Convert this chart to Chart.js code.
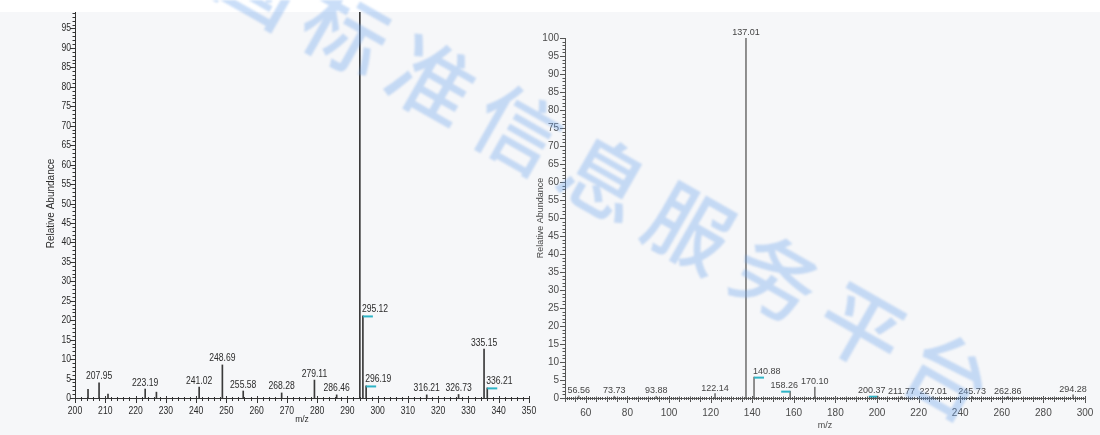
<!DOCTYPE html>
<html>
<head>
<meta charset="utf-8">
<script src="https://cdn.jsdelivr.net/npm/chart.js@4.4.1/dist/chart.umd.min.js"></script>
<style>
  html, body { margin: 0; padding: 0; width: 1100px; height: 435px; overflow: hidden; background: #f6f7f9; }
  #topband { position: absolute; left: 0; top: 0; width: 1100px; height: 12px; background: #ffffff; }
  #leftWrap { position: absolute; left: 0; top: 0; width: 540px; height: 435px; clip-path: inset(12px 0 0 0); }
  #rightWrap { position: absolute; left: 520px; top: 0; width: 580px; height: 435px; }
  canvas { display: block; }
  #stamp { position: absolute; left: 0; top: 0; width: 1100px; height: 435px; pointer-events: none; overflow: hidden; filter: blur(1.3px); }
  #stamp span { position: absolute; width: 90px; height: 90px; line-height: 90px; text-align: center;
    font-family: 'Noto Sans CJK SC'; font-size: 84px; font-weight: 500; color: rgba(110, 165, 235, 0.37);
    transform: rotate(29.7deg); }
</style>
</head>
<body>
<div id="topband"></div>
<div id="leftWrap"><canvas id="left" width="540" height="435"></canvas></div>
<div id="rightWrap"><canvas id="right" width="580" height="435"></canvas></div>
<div id="stamp"></div>
<script>
// ---- spectrum 1 (m/z 200-350) ----
const leftMz        = [204.30, 207.95, 210.90, 223.19, 226.90, 241.02, 248.69, 255.58, 268.28, 279.11, 286.46, 294.11, 295.12, 296.19, 316.21, 326.73, 335.15, 336.21];
const leftAbundance = [2.2,    3.9,    1.0,    2.3,    1.5,    2.8,    8.5,    1.8,    1.3,    4.6,    0.8,    100,    21.1,   3.1,    0.8,    0.9,    12.6,   2.6];
const leftLabelled  = [false,  true,   false,  true,   false,  true,   true,   true,   true,   true,   true,   false,  true,   true,   true,   true,   true,   true];
const leftFlagged   = [295.12, 296.19, 336.21];

// ---- spectrum 2 (m/z 50-300) ----
const rightMz        = [56.56, 73.73, 93.88, 122.14, 137.01, 140.88, 158.26, 170.10, 200.37, 211.77, 227.01, 245.73, 262.86, 294.28];
const rightAbundance = [0.6,   0.5,   0.5,   1.2,    100,    5.8,    1.9,    3.0,    0.5,    0.4,    0.4,    0.4,    0.4,    0.9];
const rightFlagged   = [140.88, 158.26, 200.37];

const yTicks = { min: 0, max: 100, step: 5 };
const SANS = "'Liberation Sans', Arial, sans-serif";

// draw text squeezed horizontally (narrow instrument-printout lettering)
function squeezedText(ctx, text, x, y, sx) {
  ctx.save();
  ctx.translate(x, y);
  ctx.scale(sx, 1);
  ctx.fillText(text, 0, 0);
  ctx.restore();
}

// peak annotations: m/z value above each labelled stick, cyan flag on marked peaks
function peakLabels(id, mzs, labelled, flagged, font, color, sx) {
  return {
    id,
    afterDatasetsDraw(chart) {
      const ctx = chart.ctx;
      const pts = chart.data.datasets[0].data;
      const bars = chart.getDatasetMeta(0).data;
      ctx.save();
      bars.forEach((bar, i) => {
        const m = mzs[i], v = pts[i].y;
        // a taller neighbour just below this m/z pushes the label to the right
        const shifted = mzs.some((o, j) => o < m && m - o < 4.5 && pts[j].y > v);
        const isFlagged = flagged.includes(m);
        if (isFlagged) {
          ctx.strokeStyle = '#2fb4c6';
          ctx.lineWidth = 2;
          ctx.beginPath();
          if (shifted) { ctx.moveTo(bar.x, bar.y + 0.5); ctx.lineTo(bar.x + 10, bar.y + 0.5); }
          else { ctx.moveTo(bar.x - 9, bar.y + 0.5); ctx.lineTo(bar.x, bar.y + 0.5); }
          ctx.stroke();
        }
        if (!labelled[i]) return;
        ctx.font = font;
        ctx.fillStyle = color;
        ctx.textBaseline = 'bottom';
        ctx.textAlign = shifted ? 'left' : 'center';
        let lx = bar.x;
        if (shifted) lx = bar.x - 1;
        else if (isFlagged) lx = bar.x - 6;   // label sits over its left-hand flag
        squeezedText(ctx, m.toFixed(2), lx, bar.y - 1, sx);
      });
      ctx.restore();
    }
  };
}

// tick labels of both axes, drawn with the same narrow lettering
function narrowTickLabels(id, font, color, sx, xGap, yGap) {
  return {
    id,
    afterDraw(chart) {
      const ctx = chart.ctx;
      const xs = chart.scales.x, ys = chart.scales.y;
      const area = chart.chartArea;
      ctx.save();
      ctx.font = font;
      ctx.fillStyle = color;
      ctx.textAlign = 'center';
      ctx.textBaseline = 'top';
      xs.ticks.forEach(t => squeezedText(ctx, t.label, xs.getPixelForValue(t.value), area.bottom + xGap, sx));
      ctx.textAlign = 'right';
      ctx.textBaseline = 'middle';
      ys.ticks.forEach(t => squeezedText(ctx, t.label, area.left - yGap, ys.getPixelForValue(t.value), sx));
      ctx.restore();
    }
  };
}

// ruler-style tick combs on both axes
function rulers(id, cfg) {
  return {
    id,
    afterDraw(chart) {
      const ctx = chart.ctx;
      const xs = chart.scales.x, ys = chart.scales.y;
      const area = chart.chartArea;
      ctx.save();
      ctx.strokeStyle = cfg.color;
      ctx.lineWidth = 1;
      ctx.beginPath();
      for (let v = xs.min; v <= xs.max; v += cfg.xMinor) {
        const px = Math.round(xs.getPixelForValue(v)) + 0.5;
        let len = cfg.xMinorLen, up = 1;
        if (v % cfg.xMajor === 0) { len = cfg.xMajorLen; up = 2; }
        else if (cfg.xMid && v % cfg.xMid === 0) { len = cfg.xMidLen; up = 1.5; }
        ctx.moveTo(px, area.bottom - up);
        ctx.lineTo(px, area.bottom + len);
      }
      for (let v = ys.min; v <= ys.max; v += 1) {
        const py = Math.round(ys.getPixelForValue(v)) + 0.5;
        const len = v % yTicks.step === 0 ? cfg.yMajorLen : cfg.yMinorLen;
        ctx.moveTo(area.left - len, py);
        ctx.lineTo(area.left, py);
      }
      ctx.stroke();
      ctx.restore();
    }
  };
}

function spectrum(canvasId, mzs, abund, opt, extraPlugins) {
  return new Chart(document.getElementById(canvasId), {
    type: 'bar',
    data: {
      datasets: [{
        data: mzs.map((m, i) => ({ x: m, y: abund[i] })),
        backgroundColor: opt.stickColor,
        barThickness: 1,
        borderWidth: 0
      }]
    },
    options: {
      responsive: false,
      animation: false,
      events: [],
      layout: { padding: opt.padding },
      plugins: { legend: { display: false }, tooltip: { enabled: false } },
      scales: {
        x: {
          type: 'linear', min: opt.xMin, max: opt.xMax, offset: false,
          afterFit: s => { s.height = opt.xHeight; },
          afterBuildTicks: s => { s.ticks = s.ticks.filter(t => t.value % opt.xStep === 0); },
          ticks: { display: opt.builtinTicks, stepSize: opt.xStep, autoSkip: false, maxRotation: 0, padding: opt.xPad,
                   color: opt.textColor, font: { family: SANS, size: opt.tickSize } },
          grid: { display: false, drawTicks: true, tickLength: opt.xTickLen },
          border: { display: true, color: opt.axisColor, width: 1 },
          title: { display: true, text: 'm/z', padding: 0, color: opt.textColor,
                   font: { family: SANS, size: opt.xTitleSize } }
        },
        y: {
          min: yTicks.min, max: yTicks.max,
          afterFit: s => { s.width = opt.yWidth; },
          ticks: { display: opt.builtinTicks, stepSize: yTicks.step, autoSkip: false, padding: opt.yPad,
                   color: opt.textColor, font: { family: SANS, size: opt.tickSize } },
          grid: { display: false, drawTicks: true, tickLength: opt.yTickLen },
          border: { display: true, color: opt.axisColor, width: 1 },
          title: { display: true, text: 'Relative Abundance', padding: 0, color: opt.textColor,
                   font: { family: SANS, size: opt.yTitleSize } }
        }
      }
    },
    plugins: extraPlugins
  });
}

spectrum('left', leftMz, leftAbundance, {
  stickColor: '#3a3a3a', axisColor: '#333', textColor: '#2a2a2a', builtinTicks: false,
  padding: { top: 9, left: 45, right: 11, bottom: 10 },
  xMin: 200, xMax: 350, xStep: 10, xHeight: 27, xPad: 3, xTickLen: 5,
  yWidth: 30, yPad: 1, yTickLen: 3,
  tickSize: 10.5, xTitleSize: 8.5, yTitleSize: 10
}, [
  peakLabels('leftPeaks', leftMz, leftLabelled, leftFlagged, "11px " + SANS, '#2a2a2a', 0.78),
  narrowTickLabels('leftTicks', "11px " + SANS, '#2a2a2a', 0.78, 7, 4),
  rulers('leftRulers', { color: '#333', xMinor: 2, xMajor: 10, xMinorLen: 3, xMajorLen: 5,
                         yMinorLen: 2.5, yMajorLen: 5 })
]);

spectrum('right', rightMz, rightAbundance, {
  stickColor: '#7a7a7a', axisColor: '#555', textColor: '#4a4a4a', builtinTicks: true,
  padding: { top: 38, left: 15, right: 15, bottom: 4 },
  xMin: 50, xMax: 300, xStep: 20, xHeight: 33, xPad: 3, xTickLen: 6,
  yWidth: 30, yPad: 2, yTickLen: 4,
  tickSize: 10, xTitleSize: 9, yTitleSize: 9
}, [
  peakLabels('rightPeaks', rightMz, rightMz.map(() => true), rightFlagged, "9px " + SANS, '#444', 1),
  rulers('rightRulers', { color: '#555', xMinor: 1, xMid: 5, xMajor: 20, xMinorLen: 2, xMidLen: 4, xMajorLen: 5,
                          yMinorLen: 2.5, yMajorLen: 5 })
]);

// diagonal background stamp text
const stampText = '全国标准信息服务平台';
const stamp = document.getElementById('stamp');
[...stampText].forEach((ch, i) => {
  const s = document.createElement('span');
  s.textContent = ch;
  const cx = 348 + (i - 2) * 86, cy = 28 + (i - 2) * 49.1;
  s.style.left = (cx - 45) + 'px';
  s.style.top = (cy - 45) + 'px';
  stamp.appendChild(s);
});
</script>
</body>
</html>
